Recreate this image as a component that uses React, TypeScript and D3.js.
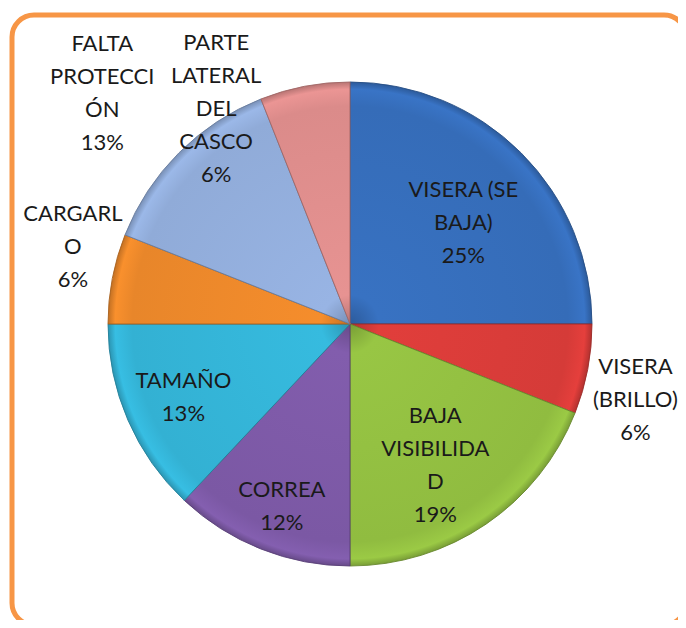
import React, { useEffect, useRef } from "react";
import * as d3 from "d3";

// slices clockwise from 12 o'clock
const labels = [
  ["VISERA (SE", "BAJA)"],
  ["VISERA", "(BRILLO)"],
  ["BAJA", "VISIBILIDA", "D"],
  ["CORREA"],
  ["TAMAÑO"],
  ["CARGARL", "O"],
  ["FALTA", "PROTECCI", "ÓN"],
  ["PARTE", "LATERAL", "DEL", "CASCO"],
];
const values = [25, 6, 19, 12, 13, 6, 13, 6];
const colors = ["#356CB8", "#D53B38", "#90BC40", "#7B58A4", "#33B1D3", "#E8862A", "#90ABD8", "#DB8B8A"];
// where each label sits: radius as share of pie radius, and angle nudge (deg)
const labelRadius = [0.63, 1.22, 0.68, 0.8, 0.75, 1.19, 1.4, 1.05];
const labelNudge = [3, 4, 3, -1, 0, 5, -2, -21];

const App = () => {
  const ref = useRef(null);

  useEffect(() => {
    const width = 686;
    const height = 628;
    const cx = 350;
    const cy = 324;
    const r = 242;

    const svg = d3.select(ref.current).html("")
      .append("svg")
      .attr("width", width)
      .attr("height", height)
      .style("display", "block");

    const defs = svg.append("defs");

    // frame
    svg.append("rect")
      .attr("x", 12).attr("y", 15)
      .attr("width", 674).attr("height", 610)
      .attr("rx", 22)
      .attr("fill", "#fff")
      .attr("stroke", "#F79646")
      .attr("stroke-width", 5);

    const pie = d3.pie().value(d => d).sort(null);
    const arcs = pie(values);
    const arc = d3.arc().innerRadius(0).outerRadius(r);

    colors.forEach((c, i) => {
      const g = defs.append("radialGradient")
        .attr("id", `g${i}`)
        .attr("gradientUnits", "userSpaceOnUse")
        .attr("cx", 0).attr("cy", 0).attr("r", r);
      const base = d3.color(c);
      g.append("stop").attr("offset", 0).attr("stop-color", base.darker(0.5).toString());
      g.append("stop").attr("offset", 0.12).attr("stop-color", base.brighter(0.15).toString());
      g.append("stop").attr("offset", 0.9).attr("stop-color", c);
      g.append("stop").attr("offset", 0.97).attr("stop-color", base.brighter(0.2).toString());
      g.append("stop").attr("offset", 1).attr("stop-color", base.darker(0.5).toString());
    });

    const chart = svg.append("g").attr("transform", `translate(${cx},${cy})`);

    chart.selectAll("path")
      .data(arcs)
      .join("path")
      .attr("d", arc)
      .attr("fill", (d, i) => `url(#g${i})`)
      .attr("stroke", (d, i) => d3.color(colors[i]).darker(0.9).toString())
      .attr("stroke-width", 0.9);

    const lineH = 33;
    arcs.forEach((d, i) => {
      const lines = [...labels[i], `${values[i]}%`];
      const a = (d.startAngle + d.endAngle) / 2 + (labelNudge[i] * Math.PI) / 180;
      const lr = r * labelRadius[i];
      const x = Math.sin(a) * lr;
      const y = -Math.cos(a) * lr;
      const t = chart.append("text")
        .attr("text-anchor", "middle")
        .attr("font-family", "Lato, 'Open Sans', sans-serif")
        .attr("font-size", 22)
        .attr("fill", "#1a1a1a");
      lines.forEach((s, k) => {
        t.append("tspan")
          .attr("x", x)
          .attr("y", y + (k - (lines.length - 1) / 2) * lineH + 8)
          .text(s);
      });
    });
  }, []);

  return <div ref={ref} style={{ margin: -8 }} />;
};

export default App;
